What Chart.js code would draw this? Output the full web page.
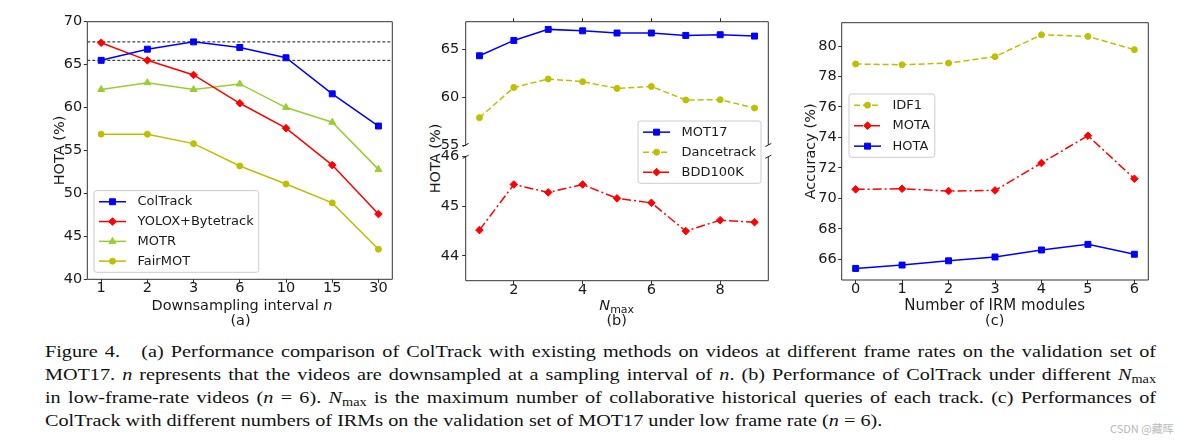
<!DOCTYPE html>
<html>
<head>
<meta charset="utf-8">
<script src="https://cdn.jsdelivr.net/npm/chart.js@4.4.0/dist/chart.umd.min.js"></script>
<style>
  body { margin: 0; width: 1193px; height: 443px; background: #fff; position: relative; overflow: hidden; font-family: "DejaVu Sans", sans-serif; color: #1a1a1a; }
  canvas { position: absolute; top: 0; }
  .rot { position: absolute; text-align: center; font-size: 14.5px; line-height: 17px; white-space: nowrap; }
  .rot sub { font-size: 11px; line-height: 0; vertical-align: -3px; }
  #legenda { position: absolute; left: 44.5px; top: 339.5px; width: 896px; transform: scaleX(1.24); transform-origin: 0 0;
             font-family: "Liberation Serif", serif; font-size: 16.3px; line-height: 23.2px; color: #111; }
  #legenda .j { text-align: justify; text-align-last: justify; }
  #legenda sub { font-size: 11.5px; line-height: 0; vertical-align: -3px; }
  #marca { position: absolute; left: 1110px; top: 420px; font: 11px "Noto Sans CJK SC", sans-serif; color: #b8b8b8; }
</style>
</head>
<body>
<canvas id="graficoA" width="390" height="310" style="left:20px"></canvas>
<canvas id="graficoB1" width="370" height="175" style="left:420px;z-index:1"></canvas>
<canvas id="graficoB2" width="370" height="310" style="left:420px;z-index:2"></canvas>
<canvas id="graficoC" width="403" height="310" style="left:790px"></canvas>

<div class="rot" style="left:92px;top:296.8px;width:300px">Downsampling interval <i>n</i></div>
<div class="rot" style="left:190.5px;top:311.5px;width:100px">(a)</div>
<div class="rot" style="left:566.7px;top:296.8px;width:100px"><i>N</i><sub>max</sub></div>
<div class="rot" style="left:566.7px;top:312px;width:100px">(b)</div>
<div class="rot" style="left:375px;top:149.5px;width:120px;transform:rotate(-90deg)">HOTA (%)</div>
<div class="rot" style="left:844.7px;top:296.5px;width:300px;font-size:15px">Number of IRM modules</div>
<div class="rot" style="left:944.7px;top:312px;width:100px">(c)</div>

<div id="legenda">
  <div class="j">Figure 4.&nbsp;&nbsp; (a) Performance comparison of ColTrack with existing methods on videos at different frame rates on the validation set of</div>
  <div class="j">MOT17. <i>n</i> represents that the videos are downsampled at a sampling interval of <i>n</i>. (b) Performance of ColTrack under different <i>N</i><sub>max</sub></div>
  <div class="j">in low-frame-rate videos (<i>n</i> = 6). <i>N</i><sub>max</sub> is the maximum number of collaborative historical queries of each track. (c) Performances of</div>
  <div>ColTrack with different numbers of IRMs on the validation set of MOT17 under low frame rate (<i>n</i> = 6).</div>
</div>
<div id="marca">CSDN @藏晖</div>

<script>
// ---------- dados (a) ----------
const intervalLabels = ["1", "2", "3", "6", "10", "15", "30"];
const colTrack = [65.5, 66.8, 67.65, 67.0, 65.8, 61.6, 57.85];
const yoloxByte = [67.55, 65.5, 63.8, 60.5, 57.6, 53.3, 47.6];
const motr = [62.1, 62.9, 62.1, 62.75, 60.0, 58.3, 52.8];
const fairMot = [56.9, 56.9, 55.8, 53.2, 51.1, 48.9, 43.5];
const refLinesA = [67.65, 65.5];
const yTicksA = [40, 45, 50, 55, 60, 65, 70];

// ---------- dados (b) ----------
const nMax = [1, 2, 3, 4, 5, 6, 7, 8, 9];
const mot17 = [64.3, 65.9, 67.05, 66.9, 66.67, 66.67, 66.42, 66.49, 66.35];
const danceTrack = [57.85, 61.0, 61.88, 61.6, 60.9, 61.1, 59.69, 59.72, 58.85];
const bdd100k = [44.52, 45.44, 45.28, 45.44, 45.16, 45.07, 44.5, 44.72, 44.68];
const xTicksB = [2, 4, 6, 8];
const yTicksBTopo = [55, 60, 65];
const yTicksBBase = [44, 45, 46];

// ---------- dados (c) ----------
const irmModules = [0, 1, 2, 3, 4, 5, 6];
const idf1 = [78.82, 78.77, 78.88, 79.3, 80.74, 80.63, 79.76];
const mota = [70.59, 70.63, 70.48, 70.52, 72.32, 74.11, 71.29];
const hotaC = [65.4, 65.62, 65.9, 66.15, 66.61, 66.98, 66.33];
const yTicksC = [66, 68, 70, 72, 74, 76, 78, 80];

const AZUL = "#0000ff", VERMELHO = "#ff0000", VERDE = "#9acd32", AMARELO = "#bfbf00";
const TXT = "#1a1a1a";
const TRACO = [6, 3];
const TRACO_PONTO = [9, 3, 2, 3];

Chart.defaults.font.family = '"DejaVu Sans", sans-serif';
Chart.defaults.color = TXT;

function serie(label, xs, ys, cor, estilo, raio, dash) {
  return {
    label,
    data: ys.map((v, i) => ({ x: xs[i], y: v })),
    borderColor: cor,
    backgroundColor: cor,
    borderWidth: 1.5,
    borderDash: dash || [],
    pointStyle: estilo,
    pointRadius: raio,
    pointHoverRadius: raio,
    pointBorderWidth: 1,
    tension: 0,
  };
}

function eixo({ posicao, min, max, valores, rotulo, tamanho, titulo, tituloPad, tickPad = 1.5, semRotulo }) {
  const horizontal = posicao === "top" || posicao === "bottom";
  return {
    type: "linear",
    position: posicao,
    min,
    max,
    grid: { display: true, drawOnChartArea: false, drawTicks: true, tickLength: 3.5, tickColor: "#333", tickWidth: 1 },
    border: { display: false },
    ticks: {
      font: { size: 14.5, lineHeight: 1 },
      color: TXT,
      padding: tickPad,
      autoSkip: false,
      maxRotation: 0,
      minRotation: 0,
      callback: (v) => (semRotulo ? "" : rotulo ? rotulo(v) : String(v)),
    },
    title: titulo
      ? { display: true, text: titulo, color: TXT, font: { size: 14.5, lineHeight: 1.2 }, padding: { top: tituloPad, bottom: 0 } }
      : { display: false },
    afterBuildTicks: (s) => { s.ticks = valores.map((v) => ({ value: v })); },
    afterFit: (s) => { if (horizontal) s.height = tamanho; else s.width = tamanho; },
  };
}

// linhas tracejadas de referencia
const linhasRef = {
  id: "linhasRef",
  beforeDatasetsDraw(chart, args, o) {
    if (!o.valores) return;
    const { ctx, chartArea: ca } = chart;
    const y = chart.scales.y;
    ctx.save();
    ctx.strokeStyle = "#000";
    ctx.lineWidth = 0.9;
    ctx.setLineDash([3, 2]);
    o.valores.forEach((v) => {
      const py = y.getPixelForValue(v);
      ctx.beginPath();
      ctx.moveTo(ca.left, py);
      ctx.lineTo(ca.right, py);
      ctx.stroke();
    });
    ctx.restore();
  },
};

// bordas estilo matplotlib + marcas de quebra
const moldura = {
  id: "moldura",
  afterDraw(chart, args, o) {
    const { ctx, chartArea: ca } = chart;
    const lados = o.lados || "tlrb";
    ctx.save();
    ctx.strokeStyle = "#333";
    ctx.lineWidth = 1;
    ctx.beginPath();
    if (lados.includes("t")) { ctx.moveTo(ca.left, ca.top); ctx.lineTo(ca.right, ca.top); }
    if (lados.includes("b")) { ctx.moveTo(ca.left, ca.bottom); ctx.lineTo(ca.right, ca.bottom); }
    if (lados.includes("l")) { ctx.moveTo(ca.left, ca.top); ctx.lineTo(ca.left, ca.bottom); }
    if (lados.includes("r")) { ctx.moveTo(ca.right, ca.top); ctx.lineTo(ca.right, ca.bottom); }
    ctx.stroke();
    if (o.quebra) {
      const yq = o.quebra === "b" ? ca.bottom : ca.top;
      ctx.strokeStyle = "#222";
      ctx.beginPath();
      [ca.left, ca.right].forEach((xq) => {
        ctx.moveTo(xq - 3, yq + 1.6);
        ctx.lineTo(xq + 3, yq - 1.6);
      });
      ctx.stroke();
    }
    ctx.restore();
  },
};

// legenda estilo matplotlib
const legendaMpl = {
  id: "legendaMpl",
  afterDraw(chart, args, o) {
    if (!o.itens) return;
    const { ctx, chartArea: ca } = chart;
    ctx.save();
    ctx.font = `${o.fonte}px "DejaVu Sans"`;
    const largTexto = Math.max(...o.itens.map((it) => ctx.measureText(it.label).width));
    const pad = 4;
    const w = 5 + 27 + 11.5 + largTexto + 5;
    const h = pad * 2 + o.fonte * 1.1 + o.passo * (o.itens.length - 1);
    const x = o.left !== undefined ? ca.left + o.left : ca.right - o.right - w;
    const y = o.top !== undefined ? ca.top + o.top : ca.bottom - o.bottom - h;
    ctx.beginPath();
    ctx.roundRect(x, y, w, h, 2.5);
    ctx.fillStyle = "rgba(255,255,255,0.8)";
    ctx.fill();
    ctx.strokeStyle = "#cccccc";
    ctx.lineWidth = 1;
    ctx.stroke();
    o.itens.forEach((it, i) => {
      const cy = y + pad + o.fonte * 0.55 + i * o.passo;
      ctx.strokeStyle = it.borderColor;
      ctx.fillStyle = it.borderColor;
      ctx.lineWidth = 1.5;
      ctx.setLineDash(it.borderDash || []);
      ctx.beginPath();
      ctx.moveTo(x + 5, cy);
      ctx.lineTo(x + 32, cy);
      ctx.stroke();
      ctx.setLineDash([]);
      ctx.lineWidth = 1;
      Chart.helpers.drawPoint(ctx, { pointStyle: it.pointStyle, radius: it.pointRadius, rotation: 0, borderWidth: 1 }, x + 18.5, cy);
      ctx.fillStyle = TXT;
      ctx.textBaseline = "middle";
      ctx.textAlign = "left";
      ctx.fillText(it.label, x + 43.5, cy);
    });
    ctx.restore();
  },
};

const semExtras = { legend: { display: false }, tooltip: { enabled: false } };

// ---------- (a) ----------
const idxA = intervalLabels.map((_, i) => i);
const dsA = [
  serie("ColTrack", idxA, colTrack, AZUL, "rect", 4.2),
  serie("YOLOX+Bytetrack", idxA, yoloxByte, VERMELHO, "rectRot", 3.8),
  serie("MOTR", idxA, motr, VERDE, "triangle", 4),
  serie("FairMOT", idxA, fairMot, AMARELO, "circle", 3),
];
new Chart(document.getElementById("graficoA"), {
  type: "line",
  data: { datasets: dsA },
  options: {
    responsive: false,
    animation: false,
    layout: { padding: { left: 0, top: 21.7, right: 17.7, bottom: 0 } },
    scales: {
      x: eixo({ posicao: "bottom", min: -0.3, max: 6.3, valores: idxA, rotulo: (v) => intervalLabels[v], tamanho: 30.7, tickPad: -1.7 }),
      y: eixo({ posicao: "left", min: 40, max: 70, valores: yTicksA, tamanho: 67.3, titulo: "HOTA (%)", tituloPad: 31.3 }),
    },
    plugins: {
      ...semExtras,
      linhasRef: { valores: refLinesA },
      moldura: { lados: "tlrb" },
      legendaMpl: { itens: dsA, fonte: 13, passo: 19.8, left: 6.7, bottom: 7 },
    },
  },
  plugins: [linhasRef, moldura, legendaMpl],
});

// ---------- (b) eixo quebrado: dois graficos sobrepostos ----------
const dsMot17 = serie("MOT17", nMax, mot17, AZUL, "rect", 4.2);
const dsDance = serie("Dancetrack", nMax, danceTrack, AMARELO, "circle", 3, TRACO);
const dsBdd = serie("BDD100K", nMax, bdd100k, VERMELHO, "rectRot", 3.8, TRACO_PONTO);

new Chart(document.getElementById("graficoB1"), {
  type: "line",
  data: { datasets: [dsMot17, dsDance] },
  options: {
    responsive: false,
    animation: false,
    layout: { padding: { left: 0, top: 0, right: 21.7, bottom: 30 } },
    scales: {
      x: eixo({ posicao: "top", min: 0.6, max: 9.4, valores: xTicksB, tamanho: 21.7, semRotulo: true }),
      y: eixo({ posicao: "left", min: 55, max: 67.85, valores: yTicksBTopo, tamanho: 45.7, tickPad: 3 }),
    },
    plugins: { ...semExtras, moldura: { lados: "tlr", quebra: "b" } },
  },
  plugins: [moldura],
});

new Chart(document.getElementById("graficoB2"), {
  type: "line",
  data: { datasets: [dsBdd] },
  options: {
    responsive: false,
    animation: false,
    layout: { padding: { left: 0, top: 156.7, right: 21.7, bottom: 0 } },
    scales: {
      x: eixo({ posicao: "bottom", min: 0.6, max: 9.4, valores: xTicksB, tamanho: 29.3, tickPad: -1.7 }),
      y: eixo({ posicao: "left", min: 43.5, max: 46, valores: yTicksBBase, tamanho: 45.7, tickPad: 3 }),
    },
    plugins: {
      ...semExtras,
      moldura: { lados: "lrb", quebra: "t" },
      legendaMpl: { itens: [dsMot17, dsDance, dsBdd], fonte: 13, passo: 20, right: 7.3, top: -35.7 },
    },
  },
  plugins: [moldura, legendaMpl],
});

// ---------- (c) ----------
const dsIdf1 = serie("IDF1", irmModules, idf1, AMARELO, "circle", 3, TRACO);
const dsMota = serie("MOTA", irmModules, mota, VERMELHO, "rectRot", 3.8, TRACO_PONTO);
const dsHota = serie("HOTA", irmModules, hotaC, AZUL, "rect", 4.2);
new Chart(document.getElementById("graficoC"), {
  type: "line",
  data: { datasets: [dsIdf1, dsMota, dsHota] },
  options: {
    responsive: false,
    animation: false,
    layout: { padding: { left: 0, top: 22.7, right: 44.7, bottom: 0 } },
    scales: {
      x: eixo({ posicao: "bottom", min: -0.3, max: 6.3, valores: irmModules, tamanho: 30, tickPad: -1.7 }),
      y: eixo({ posicao: "left", min: 64.64, max: 81.53, valores: yTicksC, tamanho: 51.7, titulo: "Accuracy (%)", tituloPad: 13 }),
    },
    plugins: {
      ...semExtras,
      moldura: { lados: "tlrb" },
      legendaMpl: { itens: [dsIdf1, dsMota, dsHota], fonte: 13, passo: 20.5, left: 7.3, top: 71.3 },
    },
  },
  plugins: [moldura, legendaMpl],
});
</script>
</body>
</html>
